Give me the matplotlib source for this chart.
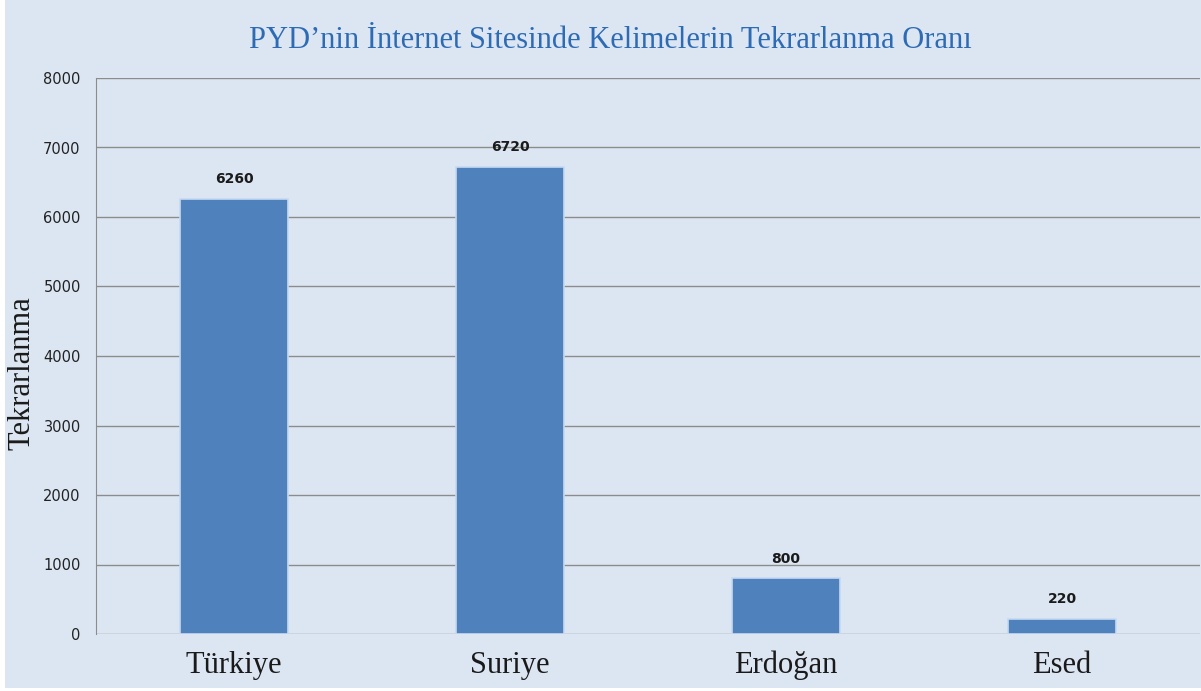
import numpy as np
import matplotlib.pyplot as plt
from matplotlib.patches import Rectangle

categories = ['Türkiye', 'Suriye', 'Erdoğan', 'Esed']
counts = [6260, 6720, 800, 220]
yticks = [0, 1000, 2000, 3000, 4000, 5000, 6000, 7000, 8000]

bg = '#dce6f2'
fig = plt.figure(figsize=(12.01, 6.91), dpi=100, facecolor='white')
fig.patches.append(Rectangle((5 / 1201, 3 / 691), 1196 / 1201, 688 / 691,
                             transform=fig.transFigure, facecolor=bg,
                             edgecolor='none', zorder=-10))
ax = fig.add_axes([96 / 1201, 57 / 691, 1104 / 1201, 556 / 691])
ax.set_facecolor(bg)

x = np.arange(len(categories))
ax.bar(x, counts, width=0.39, color='#4f81bd', edgecolor='#c6d9f1',
       linewidth=1.2, zorder=3)
for xi, v in zip(x, counts):
    ax.text(xi, v + 180, str(v), ha='center', va='bottom', fontsize=10,
            fontweight='bold', color='#1a1a1a', family='DejaVu Sans')

ax.set_xlim(-0.5, len(categories) - 0.5)
ax.set_ylim(0, 8000)
ax.set_yticks(yticks)
ax.set_yticklabels([str(t) for t in yticks], fontsize=10.5, color='#222222')
ax.yaxis.grid(True, color='#8c8c8c', linewidth=1.0, zorder=0)
ax.tick_params(axis='both', length=0)
ax.tick_params(axis='y', pad=11)
ax.set_xticks(x)
ax.set_xticklabels(categories, family='Liberation Serif', fontsize=22,
                   color='#1a1a1a')
ax.tick_params(axis='x', pad=12)
for s in ['top', 'right', 'bottom']:
    ax.spines[s].set_visible(False)
ax.spines['left'].set_color('#8c8c8c')

# y label sits a bit lower than the axes centre in the original
fig.text(22 / 1201, 1 - 373 / 691, 'Tekrarlanma', rotation=90, ha='center',
         va='center', family='Liberation Serif', fontsize=22, color='#1a1a1a')
fig.text(0.508, 1 - 41 / 691, 'PYD’nin İnternet Sitesinde Kelimelerin Tekrarlanma Oranı',
         ha='center', va='center', family='Liberation Serif', fontsize=22,
         color='#2e6bb5')

fig.savefig('out.png', dpi=100, facecolor='white')
